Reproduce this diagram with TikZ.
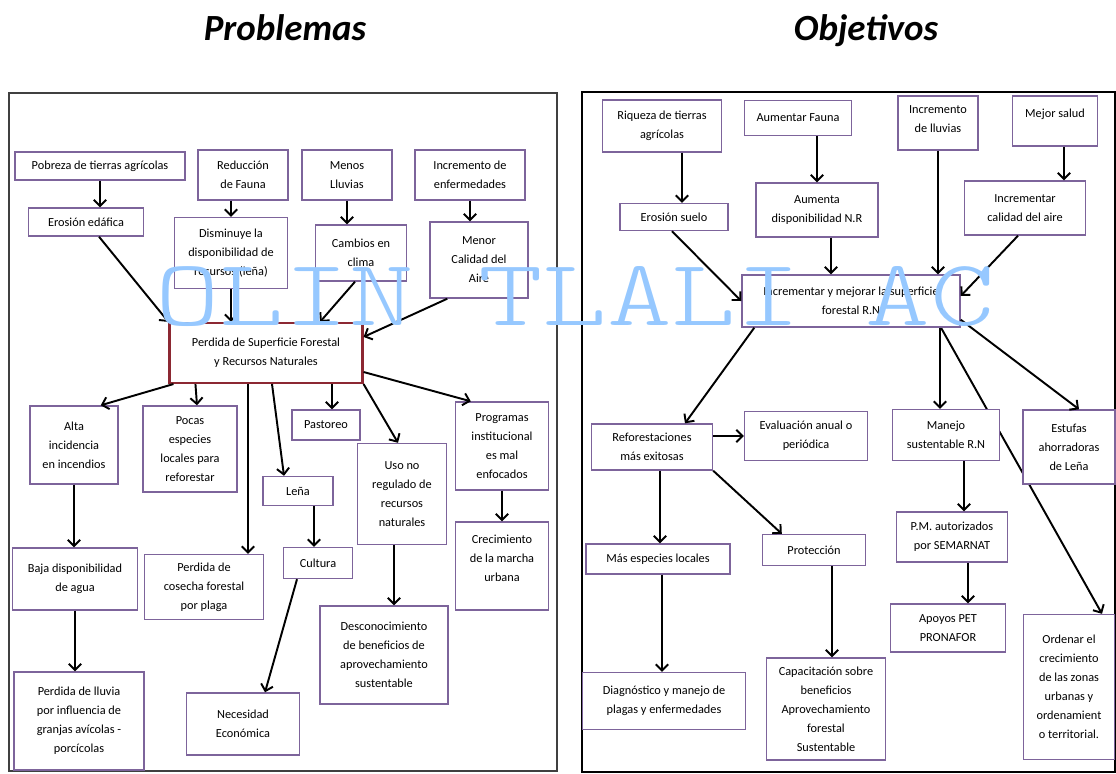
\documentclass[tikz,border=0pt]{standalone}
\usepackage{fontspec}
\setmainfont{Carlito}
\newfontfamily\marcafont{Latin Modern Mono Light}
\usetikzlibrary{arrows.meta,calc,backgrounds}
\definecolor{morado}{RGB}{125,100,155}
\definecolor{vino}{RGB}{140,40,50}
\definecolor{celeste}{RGB}{150,200,255}

\begin{document}
\begin{tikzpicture}[x=0.02cm,y=-0.02cm,
  caja/.style={draw=morado,line width=0.8pt,fill=white,align=center,inner sep=1pt,
    font=\fontsize{7}{10.8}\selectfont},
  tam/.style 2 args={minimum width=#1*0.02cm,minimum height=#2*0.02cm},
  flecha/.style={line width=1.1pt,-{Straight Barb[length=3.5pt,width=7pt]}},
  titulo/.style={font=\fontsize{21}{24}\selectfont\bfseries\itshape,anchor=base}]
\useasboundingbox (0,0) rectangle (1116,774);

% titles and frames
\node[titulo] (tprob) at (285,40) {Problemas};
\node[titulo] (tobj) at (866,40) {Objetivos};
\draw[black!75,line width=0.8pt] (9,93) rectangle (557,771);
\draw[black,line width=1.5pt] (582,92) rectangle (1115,772);

% problemas
\node[caja,tam={170}{28}] (pobreza) at (100,166) {Pobreza de tierras agrícolas};
\node[caja,tam={90}{50}] (reduccion) at (243,175) {Reducción\\de Fauna};
\node[caja,tam={90}{50}] (menos) at (347,175) {Menos\\Lluvias};
\node[caja,tam={110}{50}] (incremento) at (470,175) {Incremento de\\enfermedades};
\node[caja,tam={115}{28}] (erosion) at (86,222) {Erosión edáfica};
\node[caja,tam={113}{71}] (disminuye) at (231,253) {Disminuye la\\disponibilidad de\\recursos (leña)};
\node[caja,tam={91}{56}] (cambios) at (361,253) {Cambios en\\clima};
\node[caja,tam={98}{76}] (menor) at (479,260) {Menor\\Calidad del\\Aire};
\node[caja,draw=vino,line width=1.2pt,tam={193}{60}] (perdida) at (266,353) {Perdida de Superficie Forestal\\y Recursos Naturales};
\node[caja,tam={88}{78}] (alta) at (74,445) {Alta\\incidencia\\en incendios};
\node[caja,tam={94}{86}] (pocas) at (190,449) {Pocas\\especies\\locales para\\reforestar};
\node[caja,tam={68}{30}] (pastoreo) at (326,425) {Pastoreo};
\node[caja,tam={70}{29}] (lena) at (298,491) {Leña};
\node[caja,tam={89}{101}] (uso) at (402,494) {Uso no\\regulado de\\recursos\\naturales};
\node[caja,tam={93}{88}] (programas) at (502,446) {Programas\\institucional\\es mal\\enfocados};
\node[caja,tam={93}{88}] (crecimiento) at (502,566) {Crecimiento\\de la marcha\\urbana\\[-5pt]\strut};
\node[caja,tam={125}{62}] (baja) at (75,579) {Baja disponibilidad\\de agua};
\node[caja,tam={119}{65}] (cosecha) at (204,587) {Perdida de\\cosecha forestal\\por plaga};
\node[caja,tam={69}{31}] (cultura) at (318,563) {Cultura};
\node[caja,tam={128}{98}] (desconoc) at (384,655) {Desconocimiento\\de beneficios de\\aprovechamiento\\sustentable};
\node[caja,tam={130}{98}] (lluvia) at (79,721) {Perdida de lluvia\\por influencia de\\granjas avícolas -\\porcícolas};
\node[caja,tam={113}{62}] (necesidad) at (243,724) {Necesidad\\Económica};

% causas
\draw[flecha] (pobreza.south) -- (pobreza.south |- erosion.north);
\draw[flecha] (disminuye.north |- reduccion.south) -- (disminuye.north);
\draw[flecha] (menos.south) -- (menos.south |- cambios.north);
\draw[flecha] (incremento.south) -- (incremento.south |- menor.north);
\draw[flecha] ($(erosion.south)+(13,0)$) -- (perdida.north west);
\draw[flecha] (disminuye.south) -- (disminuye.south |- perdida.north);
\draw[flecha] ($(cambios.south)+(-6,0)$) -- ($(perdida.north)+(54,0)$);
\draw[flecha] ($(menor.south west)+(18,0)$) -- ($(perdida.north east)+(0,15)$);
% efectos
\draw[flecha] ($(perdida.south west)+(5,0)$) -- ($(alta.north east)+(-18,0)$);
\draw[flecha] ($(perdida.south west)+(27,0)$) -- ($(pocas.north)+(7,0)$);
\draw[flecha] ($(perdida.south)+(-18,0)$) -- ($(cosecha.north)+(44,0)$);
\draw[flecha] ($(perdida.south)+(6,0)$) -- ($(lena.north)+(-14,0)$);
\draw[flecha] ($(perdida.south)+(66,0)$) -- ($(pastoreo.north)+(6,0)$);
\draw[flecha] (perdida.south east) -- ($(uso.north)+(-4,0)$);
\draw[flecha] ($(perdida.east)+(0,19)$) -- ($(programas.north west)+(16,0)$);
\draw[flecha] (alta.south) -- (alta.south |- baja.north);
\draw[flecha] ($(lena.south)+(16,0)$) -- ($(cultura.north)+(-4,0)$);
\draw[flecha] ($(uso.south)+(-8,0)$) -- ($(desconoc.north)+(10,0)$);
\draw[flecha] (programas.south) -- (crecimiento.north);
\draw[flecha] (baja.south) -- (baja.south |- lluvia.north);
\draw[flecha] ($(cultura.south)+(-21,0)$) -- ($(necesidad.north)+(22,0)$);

% objetivos
\node[caja,tam={119}{52}] (riqueza) at (662,126) {Riqueza de tierras\\agrícolas};
\node[caja,tam={107}{35}] (aumentar) at (798,118) {Aumentar Fauna};
\node[caja,tam={80}{54}] (lluvias) at (938,123) {Incremento\\de lluvias\\[-9pt]\strut};
\node[caja,tam={85}{50}] (mejor) at (1055,121) {Mejor salud\\[-5pt]\strut};
\node[caja,tam={108}{27}] (erosuelo) at (674,217) {Erosión suelo};
\node[caja,tam={122}{54}] (aumenta) at (817,210) {Aumenta\\disponibilidad N.R};
\node[caja,tam={121}{54}] (calidad) at (1025,208) {Incrementar\\calidad del aire};
\node[caja,tam={218}{52}] (mejorar) at (851,301) {Incrementar y mejorar la superficie\\forestal R.N};
\node[caja,tam={121}{46}] (reforest) at (652,447) {Reforestaciones\\más exitosas};
\node[caja,tam={123}{49}] (evaluacion) at (806,436) {Evaluación anual o\\periódica};
\node[caja,tam={107}{51}] (manejo) at (946,435) {Manejo\\sustentable R.N};
\node[caja,tam={92}{74}] (estufas) at (1069,447) {Estufas\\ahorradoras\\de Leña};
\node[caja,tam={144}{30}] (especies) at (658,559) {Más especies locales};
\node[caja,tam={103}{31}] (proteccion) at (814,550) {Protección};
\node[caja,tam={111}{50}] (pm) at (952,537) {P.M. autorizados\\por SEMARNAT};
\node[caja,tam={115}{48}] (apoyos) at (948,628) {Apoyos PET\\PRONAFOR};
\node[caja,tam={163}{57}] (diagnostico) at (664,701) {Diagnóstico y manejo de\\plagas y enfermedades};
\node[caja,tam={119}{102}] (capacitacion) at (826,709) {Capacitación sobre\\beneficios\\Aprovechamiento\\forestal\\Sustentable};
\node[caja,tam={91}{145}] (ordenar) at (1069,687) {Ordenar el\\crecimiento\\de las zonas\\urbanas y\\ordenamient\\o territorial.};

\draw[flecha] ($(riqueza.south)+(20,0)$) -- ($(erosuelo.north)+(8,0)$);
\draw[flecha] ($(aumentar.south)+(19,0)$) -- (aumenta.north);
\draw[flecha] ($(aumenta.south)+(14,0)$) -- ($(mejorar.north)+(-20,0)$);
\draw[flecha] (lluvias.south) -- ($(mejorar.north)+(87,0)$);
\draw[flecha] ($(mejor.south)+(9,0)$) -- ($(calidad.north)+(39,0)$);
\draw[flecha] ($(erosuelo.south)+(-2,0)$) -- (mejorar.west);
\draw[flecha] ($(calidad.south)+(-7,0)$) -- ($(mejorar.east)+(0,-5)$);
\draw[flecha] ($(mejorar.south west)+(13,0)$) -- ($(reforest.north)+(33,0)$);
\draw[flecha] ($(mejorar.south)+(89,0)$) -- ($(manejo.north)+(-6,0)$);
\draw[flecha] ($(mejorar.south east)+(0,-8)$) -- ($(estufas.north)+(10,0)$);
\draw[flecha] (reforest.east |- evaluacion.west) -- (evaluacion.west);
\draw[flecha] ($(reforest.south)+(8,0)$) -- ($(especies.north)+(2,0)$);
\draw[flecha] (reforest.south east) -- ($(proteccion.north west)+(20,0)$);
\draw[flecha] ($(especies.south)+(4,0)$) -- ($(diagnostico.north)+(-2,0)$);
\draw[flecha] ($(proteccion.south)+(18,0)$) -- ($(capacitacion.north)+(6,0)$);
\draw[flecha] ($(manejo.south)+(18,0)$) -- ($(pm.north)+(12,0)$);
\draw[flecha] ($(pm.south)+(16,0)$) -- ($(apoyos.north)+(20,0)$);
% passes behind Manejo
\begin{pgfonlayer}{background}
\draw[flecha] ($(mejorar.south)+(90,0)$) -- ($(ordenar.north)+(33,0)$);
\end{pgfonlayer}

% watermark
\node[text=celeste,inner sep=0pt,anchor=base] (marca) at (575,325) {\scalebox{1}[0.77]{\marcafont\fontsize{70}{70}\selectfont OLIN TLALI AC}};
\end{tikzpicture}
\end{document}
